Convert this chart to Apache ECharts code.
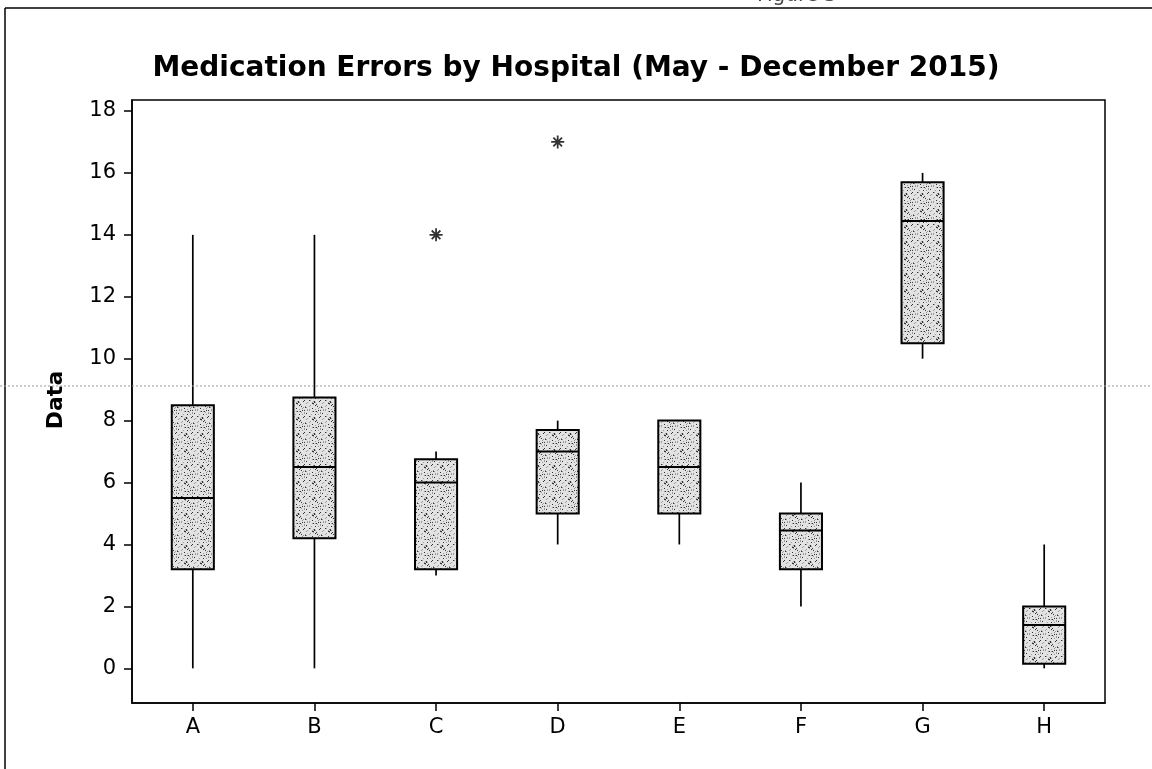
<!DOCTYPE html>
<html>
<head>
<meta charset="utf-8">
<script src="https://cdn.jsdelivr.net/npm/echarts@6/dist/echarts.min.js"></script>
<style>
  html, body { margin: 0; padding: 0; background: #fff; }
  #chart { width: 1152px; height: 769px; }
</style>
</head>
<body>
<div id="chart"></div>
<script>
// ---- data ----
const categories = ['A', 'B', 'C', 'D', 'E', 'F', 'G', 'H'];
// [min whisker, Q1, median, Q3, max whisker]
const boxMin    = [0,    0,    3,    4,    4,   2,    10,    0];
const boxQ1     = [3.2,  4.2,  3.2,  5,    5,   3.2,  10.5,  0.15];
const boxMedian = [5.5,  6.5,  6,    7,    6.5, 4.45, 14.45, 1.4];
const boxQ3     = [8.5,  8.75, 6.75, 7.7,  8,   5,    15.7,  2];
const boxMax    = [14,   14,   7,    8,    8,   6,    16,    4];
const outlierCats   = ['C', 'D'];
const outlierValues = [14, 17];
const yTickValues = [0, 2, 4, 6, 8, 10, 12, 14, 16, 18];

// stipple texture for the boxes
function makeStipple() {
  const c = document.createElement('canvas');
  c.width = 16; c.height = 16;
  const g = c.getContext('2d');
  g.fillStyle = '#e2e2e2';
  g.fillRect(0, 0, 16, 16);
  for (let y = 0; y < 16; y++) {
    for (let x = 0; x < 16; x++) {
      const h = (x * 37 + y * 91 + x * y * 13) % 29;
      if (h === 0 || h === 11) { g.fillStyle = '#333'; g.fillRect(x, y, 1, 1); }
      else if (h === 5 || h === 19 || h === 23) { g.fillStyle = '#9a9a9a'; g.fillRect(x, y, 1, 1); }
    }
  }
  return c;
}
const stipple = makeStipple();

const boxData = categories.map((c, i) => [i, boxMin[i], boxQ1[i], boxMedian[i], boxQ3[i], boxMax[i]]);
const outlierData = outlierCats.map((c, i) => [categories.indexOf(c), outlierValues[i]]);

const chart = echarts.init(document.getElementById('chart'), null, { renderer: 'canvas' });

const option = {
  animation: false,
  backgroundColor: '#fff',
  title: {
    text: 'Medication Errors by Hospital (May - December 2015)',
    left: 'center',
    top: 50,
    textStyle: { fontFamily: 'DejaVu Sans', fontWeight: 'bold', fontSize: 28, color: '#000' }
  },
  grid: {
    left: 132, right: 47, top: 100, bottom: 66,
    show: true, borderColor: '#000', borderWidth: 1.5, backgroundColor: 'transparent'
  },
  xAxis: {
    type: 'category',
    data: categories,
    boundaryGap: true,
    axisLine: { show: true, onZero: false, lineStyle: { color: '#000', width: 1.5 } },
    axisTick: { show: true, alignWithLabel: true, length: 8, lineStyle: { color: '#000', width: 1.5 } },
    axisLabel: { color: '#000', fontFamily: 'DejaVu Sans', fontSize: 21, margin: 14 },
    splitLine: { show: false }
  },
  yAxis: {
    type: 'value',
    min: -1.12,
    max: 18.355,
    axisLine: { show: true, lineStyle: { color: '#000', width: 1.5 } },
    axisTick: { show: true, length: 8, customValues: yTickValues, lineStyle: { color: '#000', width: 1.5 } },
    axisLabel: { color: '#000', fontFamily: 'DejaVu Sans', fontSize: 21, margin: 16, customValues: yTickValues },
    splitLine: { show: false }
  },
  graphic: [
    { type: 'line', shape: { x1: 5, y1: 8, x2: 5, y2: 769 }, style: { stroke: '#000', lineWidth: 1.5 } },
    { type: 'line', shape: { x1: 5, y1: 8, x2: 1152, y2: 8 }, style: { stroke: '#000', lineWidth: 1.5 } },
    { type: 'line', shape: { x1: 0, y1: 386, x2: 1152, y2: 386 }, style: { stroke: '#999', lineWidth: 1, lineDash: [2, 2] }, z: 100 },
    { type: 'text', x: 797, y: 6, style: { text: 'Figure 5', fill: '#444', font: '20px DejaVu Sans', textAlign: 'center', textVerticalAlign: 'bottom' } },
    { type: 'text', x: 56, y: 400, rotation: Math.PI / 2,
      style: { text: 'Data', fill: '#000', font: 'bold 22px DejaVu Sans', textAlign: 'center', textVerticalAlign: 'middle' } }
  ],
  series: [
    {
      type: 'custom',
      data: boxData,
      encode: { x: 0, y: [1, 2, 3, 4, 5] },
      renderItem: function (params, api) {
        const x = api.value(0);
        const pMin = api.coord([x, api.value(1)]);
        const pQ1 = api.coord([x, api.value(2)]);
        const pMed = api.coord([x, api.value(3)]);
        const pQ3 = api.coord([x, api.value(4)]);
        const pMax = api.coord([x, api.value(5)]);
        const half = api.size([1, 0])[0] * 0.173;
        const cx = pMed[0];
        return {
          type: 'group',
          children: [
            { type: 'line', shape: { x1: cx, y1: pQ3[1], x2: cx, y2: pMax[1] }, style: { stroke: '#000', lineWidth: 1.7 } },
            { type: 'line', shape: { x1: cx, y1: pQ1[1], x2: cx, y2: pMin[1] }, style: { stroke: '#000', lineWidth: 1.7 } },
            { type: 'rect', shape: { x: cx - half, y: pQ3[1], width: half * 2, height: pQ1[1] - pQ3[1] },
              style: { fill: { image: stipple, repeat: 'repeat' }, stroke: '#000', lineWidth: 2 } },
            { type: 'line', shape: { x1: cx - half, y1: pMed[1], x2: cx + half, y2: pMed[1] }, style: { stroke: '#000', lineWidth: 2 } }
          ]
        };
      }
    },
    {
      type: 'scatter',
      data: outlierData,
      symbol: 'path://M0,6L12,6M6,0L6,12M2,2L10,10M10,2L2,10',
      symbolSize: 13,
      itemStyle: { color: 'transparent', borderColor: '#000', borderWidth: 1.8 }
    }
  ]
};
chart.setOption(option);
</script>
</body>
</html>
